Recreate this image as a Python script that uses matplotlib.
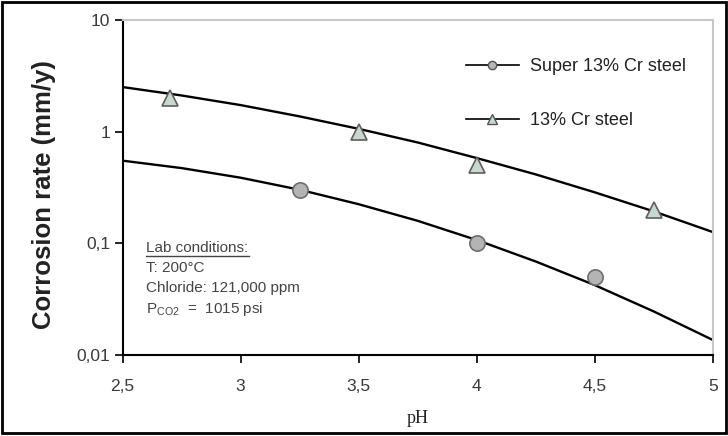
import matplotlib

matplotlib.use("Agg")

from matplotlib import pyplot as plt
from matplotlib.lines import Line2D
from matplotlib.patches import Rectangle
from matplotlib.ticker import NullLocator
from matplotlib.transforms import IdentityTransform

plt.rcParams["font.family"] = ["Liberation Sans", "DejaVu Sans"]
plt.rcParams["mathtext.fontset"] = "custom"
plt.rcParams["mathtext.rm"] = "Liberation Sans"

# measured points
ph_super = [3.25, 4.0, 4.5]
rate_super = [0.3, 0.1, 0.05]
ph_cr13 = [2.7, 3.5, 4.0, 4.75]
rate_cr13 = [2.0, 1.0, 0.5, 0.2]

# fitted curves
ph_fit = [2.5, 2.75, 3.0, 3.25, 3.5, 3.75, 4.0, 4.25, 4.5, 4.75, 5.0]
fit_super = [0.550, 0.472, 0.387, 0.302, 0.224, 0.159, 0.107, 0.0687, 0.0422, 0.0245, 0.0136]
fit_cr13 = [2.51, 2.11, 1.73, 1.37, 1.06, 0.80, 0.58, 0.414, 0.286, 0.193, 0.126]

x_ticks = [2.5, 3, 3.5, 4, 4.5, 5]
x_labels = ["2,5", "3", "3,5", "4", "4,5", "5"]
y_ticks = [0.01, 0.1, 1, 10]
y_labels = ["0,01", "0,1", "1", "10"]

conditions = [
    "T: 200°C",
    "Chloride: 121,000 ppm",
    r"P$_{\rm CO2}$  =  1015 psi",
]

fig = plt.figure(figsize=(7.28, 4.36), dpi=100)
ax = fig.add_axes([0.1683, 0.1858, 0.8111, 0.7683])

ax.plot(ph_fit, fit_super, color="black", linewidth=1.7, zorder=2)
ax.plot(ph_fit, fit_cr13, color="black", linewidth=1.7, zorder=2)
ax.plot(ph_super, rate_super, linestyle="none", marker="o", markersize=11,
        markerfacecolor="#b4b4b4", markeredgecolor="#6e6e6e", markeredgewidth=1.2, zorder=3)
ax.plot(ph_cr13, rate_cr13, linestyle="none", marker="^", markersize=11,
        markerfacecolor="#c9d8cf", markeredgecolor="#5e5e5e", markeredgewidth=1.2, zorder=3)

ax.set_yscale("log")
ax.set_xlim(2.5, 5)
ax.set_ylim(0.01, 10)
ax.set_xticks(x_ticks)
ax.set_xticklabels(x_labels)
ax.set_yticks(y_ticks)
ax.set_yticklabels(y_labels)
ax.yaxis.set_minor_locator(NullLocator())
ax.tick_params(direction="out", length=6, width=1.2, labelsize=12.5, labelcolor="#3a3a3a")
ax.tick_params(axis="x", pad=11)
ax.tick_params(axis="y", pad=3)

for side in ("left", "bottom"):
    ax.spines[side].set_color("black")
    ax.spines[side].set_linewidth(1.5)
for side in ("top", "right"):
    ax.spines[side].set_color("#c8c8c8")
    ax.spines[side].set_linewidth(1.5)

ax.set_xlabel("pH", family="Liberation Serif", fontsize=13, color="#222222")
ax.xaxis.set_label_coords(0.5, -0.164)
ax.set_ylabel("Corrosion rate (mm/y)", fontsize=18.5, fontweight="bold", color="#222222")
ax.yaxis.set_label_coords(-0.112, 0.48)

handles = [
    Line2D([], [], color="black", linewidth=1.2, marker="o", markersize=6,
           markerfacecolor="#b4b4b4", markeredgecolor="#555555"),
    Line2D([], [], color="black", linewidth=1.2, marker="^", markersize=7,
           markerfacecolor="#c9d8cf", markeredgecolor="#555555"),
]
ax.legend(handles, ["Super 13% Cr steel", "13% Cr steel"], loc="upper left",
          bbox_to_anchor=(0.582, 0.887), frameon=False, fontsize=13,
          handlelength=2.9, handletextpad=0.65, labelspacing=2.05,
          borderpad=0, borderaxespad=0, labelcolor="#222222")

lab = ax.text(0.0406, 0.3194, "Lab conditions:", transform=ax.transAxes,
              fontsize=11, color="#444444", va="center")
for i, line in enumerate(conditions):
    ax.text(0.0406, 0.2597 - i * 0.061, line, transform=ax.transAxes,
            fontsize=11, color="#444444", va="center")

fig.add_artist(Rectangle((0.003, 0.006), 0.994, 0.989, transform=fig.transFigure,
                         fill=False, edgecolor="black", linewidth=2))

fig.canvas.draw()
bb = lab.get_window_extent()
fig.add_artist(Line2D([bb.x0, bb.x1], [bb.y0 - 1, bb.y0 - 1], color="#444444",
                      linewidth=1.0, transform=IdentityTransform()))

fig.savefig("out.png", dpi=100)
plt.close(fig)
